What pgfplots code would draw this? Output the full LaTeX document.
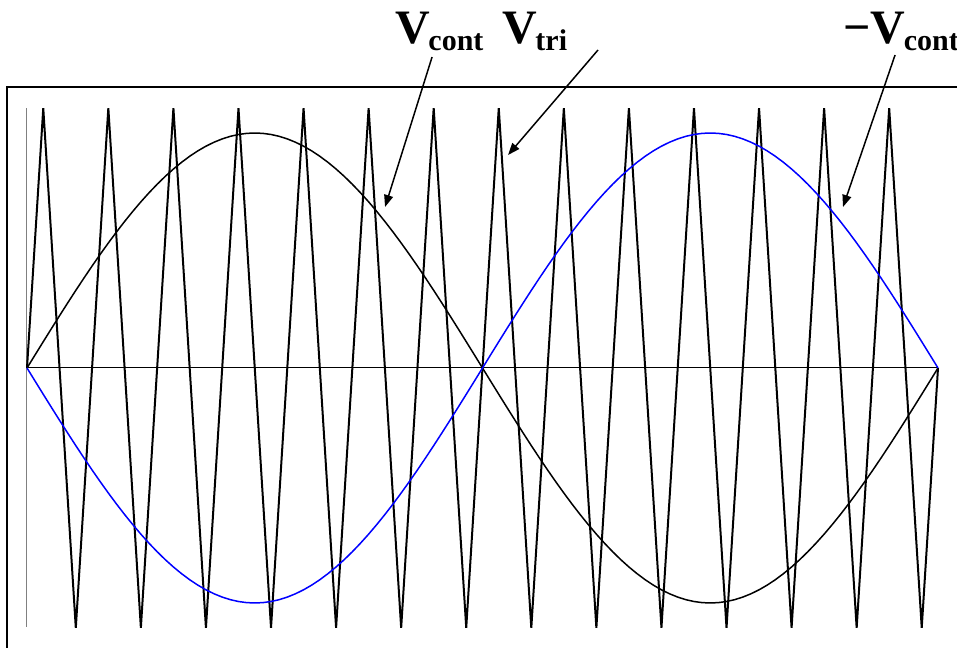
\documentclass[border=0pt]{standalone}
\usepackage{fontspec}
\setmainfont{Liberation Serif}
\usepackage{pgfplots}
\pgfplotsset{compat=1.18}
\usepackage{pgfplotstable}
\usetikzlibrary{arrows.meta}

% control signal: x in quarter periods of the carrier (56 over one control period)
\pgfplotstableread{
x     vc       nvc
0     0        0
0.5   0.0561  -0.0561
1     0.1120  -0.1120
1.5   0.1675  -0.1675
2     0.2225  -0.2225
2.5   0.2768  -0.2768
3     0.3303  -0.3303
3.5   0.3827  -0.3827
4     0.4339  -0.4339
4.5   0.4837  -0.4837
5     0.5320  -0.5320
5.5   0.5787  -0.5787
6     0.6235  -0.6235
6.5   0.6663  -0.6663
7     0.7071  -0.7071
7.5   0.7456  -0.7456
8     0.7818  -0.7818
8.5   0.8156  -0.8156
9     0.8467  -0.8467
9.5   0.8752  -0.8752
10    0.9010  -0.9010
10.5  0.9239  -0.9239
11    0.9439  -0.9439
11.5  0.9609  -0.9609
12    0.9749  -0.9749
12.5  0.9859  -0.9859
13    0.9937  -0.9937
13.5  0.9984  -0.9984
14    1       -1
14.5  0.9984  -0.9984
15    0.9937  -0.9937
15.5  0.9859  -0.9859
16    0.9749  -0.9749
16.5  0.9609  -0.9609
17    0.9439  -0.9439
17.5  0.9239  -0.9239
18    0.9010  -0.9010
18.5  0.8752  -0.8752
19    0.8467  -0.8467
19.5  0.8156  -0.8156
20    0.7818  -0.7818
20.5  0.7456  -0.7456
21    0.7071  -0.7071
21.5  0.6663  -0.6663
22    0.6235  -0.6235
22.5  0.5787  -0.5787
23    0.5320  -0.5320
23.5  0.4837  -0.4837
24    0.4339  -0.4339
24.5  0.3827  -0.3827
25    0.3303  -0.3303
25.5  0.2768  -0.2768
26    0.2225  -0.2225
26.5  0.1675  -0.1675
27    0.1120  -0.1120
27.5  0.0561  -0.0561
28    0        0
28.5 -0.0561   0.0561
29   -0.1120   0.1120
29.5 -0.1675   0.1675
30   -0.2225   0.2225
30.5 -0.2768   0.2768
31   -0.3303   0.3303
31.5 -0.3827   0.3827
32   -0.4339   0.4339
32.5 -0.4837   0.4837
33   -0.5320   0.5320
33.5 -0.5787   0.5787
34   -0.6235   0.6235
34.5 -0.6663   0.6663
35   -0.7071   0.7071
35.5 -0.7456   0.7456
36   -0.7818   0.7818
36.5 -0.8156   0.8156
37   -0.8467   0.8467
37.5 -0.8752   0.8752
38   -0.9010   0.9010
38.5 -0.9239   0.9239
39   -0.9439   0.9439
39.5 -0.9609   0.9609
40   -0.9749   0.9749
40.5 -0.9859   0.9859
41   -0.9937   0.9937
41.5 -0.9984   0.9984
42   -1        1
42.5 -0.9984   0.9984
43   -0.9937   0.9937
43.5 -0.9859   0.9859
44   -0.9749   0.9749
44.5 -0.9609   0.9609
45   -0.9439   0.9439
45.5 -0.9239   0.9239
46   -0.9010   0.9010
46.5 -0.8752   0.8752
47   -0.8467   0.8467
47.5 -0.8156   0.8156
48   -0.7818   0.7818
48.5 -0.7456   0.7456
49   -0.7071   0.7071
49.5 -0.6663   0.6663
50   -0.6235   0.6235
50.5 -0.5787   0.5787
51   -0.5320   0.5320
51.5 -0.4837   0.4837
52   -0.4339   0.4339
52.5 -0.3827   0.3827
53   -0.3303   0.3303
53.5 -0.2768   0.2768
54   -0.2225   0.2225
54.5 -0.1675   0.1675
55   -0.1120   0.1120
55.5 -0.0561   0.0561
56    0        0
}\ctrl

% carrier: 14 periods, corners only
\pgfplotstableread{
x   vt
0   0
1   1.106
3  -1.106
5   1.106
7  -1.106
9   1.106
11 -1.106
13  1.106
15 -1.106
17  1.106
19 -1.106
21  1.106
23 -1.106
25  1.106
27 -1.106
29  1.106
31 -1.106
33  1.106
35 -1.106
37  1.106
39 -1.106
41  1.106
43 -1.106
45  1.106
47 -1.106
49  1.106
51 -1.106
53  1.106
55 -1.106
56  0
}\tri

\newcommand{\lab}[2]{{\fontsize{24}{24}\selectfont\bfseries #1\kern-0.8pt\raisebox{-3.5pt}{\fontsize{15}{15}\selectfont #2}}}

\begin{document}
\begin{tikzpicture}
\begin{axis}[
  scale only axis,
  width=478.5pt, height=324pt,
  xmin=-1.6597, xmax=57.168,
  ymin=-1.1915, ymax=1.5660,
  hide axis, clip=false,
]
% outer frame (open towards right and bottom)
\draw[black, line width=0.75pt] (axis cs:58,1.1957) -- (axis cs:-1.2294,1.1957) -- (axis cs:-1.2294,-1.4);
% axis lines
\addplot[gray, line width=0.5pt] coordinates {(0,-1.102)(0,1.106)};
\addplot[black, line width=0.5pt] coordinates {(0,0)(56,0)};
% carrier
\addplot[black, line width=1pt] table[x=x, y=vt] {\tri};
% control signals
\addplot[black, line width=0.75pt] table[x=x, y=vc] {\ctrl};
\addplot[blue, line width=0.75pt] table[x=x, y=nvc] {\ctrl};
% labels
\node[anchor=base west, inner sep=0] at (axis cs:22.62,1.383) {\lab{V}{cont}};
\node[anchor=base west, inner sep=0] at (axis cs:29.20,1.383) {\lab{V}{tri}};
\node[anchor=base west, inner sep=0] at (axis cs:50.16,1.383) {\lab{−V}{cont}};
\draw[line width=0.75pt, -{Triangle[length=6pt, width=4.5pt]}] (axis cs:24.90,1.3234) -- (axis cs:22.01,0.6851);
\draw[line width=0.75pt, -{Triangle[length=6pt, width=4.5pt]}] (axis cs:35.10,1.3532) -- (axis cs:29.57,0.9064);
\draw[line width=0.75pt, -{Triangle[length=6pt, width=4.5pt]}] (axis cs:53.36,1.3319) -- (axis cs:50.16,0.6851);
\end{axis}
\pgfresetboundingbox
\path (current axis.south west) rectangle (current axis.north east);
\end{tikzpicture}
\end{document}
